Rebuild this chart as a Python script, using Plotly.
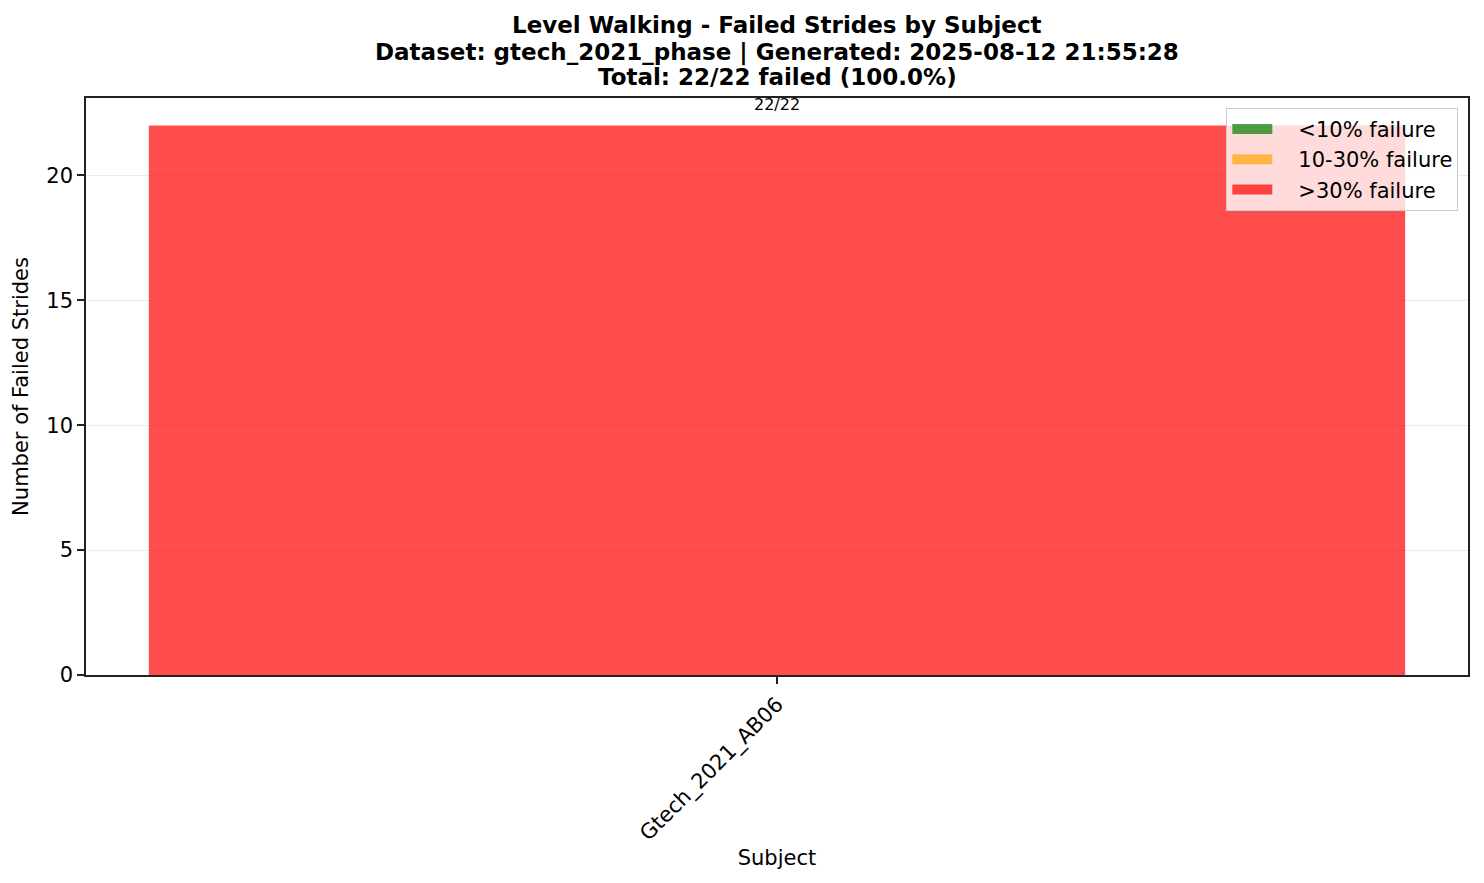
import plotly.graph_objects as go

# data
subjects = ["Gtech_2021_AB06"]
failed_strides = [22]
total_strides = [22]
legend_labels = ["<10% failure", "10-30% failure", ">30% failure"]
legend_colors = ["rgba(0,128,0,0.7)", "rgba(255,165,0,0.7)", "rgba(255,0,0,0.7)"]
title_lines = [
    "Level Walking - Failed Strides by Subject",
    "Dataset: gtech_2021_phase | Generated: 2025-08-12 21:55:28",
    "Total: 22/22 failed (100.0%)",
]

FONT = "DejaVu Sans, Arial, sans-serif"
x_pos = list(range(len(subjects)))

fig = go.Figure()

fig.add_trace(go.Bar(
    x=x_pos, y=failed_strides, name=legend_labels[2], width=0.8,
    marker=dict(color=legend_colors[2], line=dict(width=0)),
    showlegend=False,
    hovertemplate='%{y}<extra></extra>'
))

# legend entries drawn as thick lines to look like wide patches
for label, color in zip(legend_labels, legend_colors):
    fig.add_trace(go.Scatter(
        x=[None], y=[None], name="\u2002\u2002" + label, mode='lines',
        line=dict(color=color, width=15),
    ))

for xp, f, t in zip(x_pos, failed_strides, total_strides):
    fig.add_annotation(x=xp, y=f, text=f"{f}/{t}", showarrow=False,
                       yanchor='bottom', yshift=9,
                       font=dict(family=FONT, size=16, color='black'))

# three-line bold title, one annotation per line
for line, ypos in zip(title_lines, [1.1265, 1.0797, 1.0364]):
    fig.add_annotation(x=0.5, y=ypos, xref='paper', yref='paper', text=f"<b>{line}</b>",
                       showarrow=False, xanchor='center', yanchor='middle',
                       font=dict(family=FONT, size=23, color='black'))

fig.update_layout(
    width=1484, height=883,
    barmode='overlay',
    plot_bgcolor='white', paper_bgcolor='white',
    margin=dict(l=76, r=24, t=90, b=216),
    font=dict(family=FONT, size=21, color='black'),
    legend=dict(x=0.993, y=0.983, xanchor='right', yanchor='top',
                bgcolor='rgba(255,255,255,0.8)', bordercolor='#cccccc', borderwidth=1,
                font=dict(family=FONT, size=21), traceorder='normal',
                itemwidth=40),
    showlegend=True,
)

fig.update_xaxes(
    range=[-0.44, 0.44], tickvals=x_pos, ticktext=subjects, tickangle=-45,
    ticks='outside', ticklen=7, tickcolor='#222222', tickwidth=1.5,
    showline=True, linecolor='#222222', linewidth=1.5, mirror=True,
    showgrid=False, zeroline=False,
    title=dict(text='Subject', font=dict(family=FONT, size=21), standoff=5),
)
fig.update_yaxes(
    range=[0, 23.1], tickvals=[0, 5, 10, 15, 20],
    ticks='outside', ticklen=7, tickcolor='#222222', tickwidth=1.5,
    showline=True, linecolor='#222222', linewidth=1.5, mirror=True,
    showgrid=True, gridcolor='#ebebeb', zeroline=False,
    title=dict(text='Number of Failed Strides', font=dict(family=FONT, size=21), standoff=12),
)

fig.write_html("out.html")
